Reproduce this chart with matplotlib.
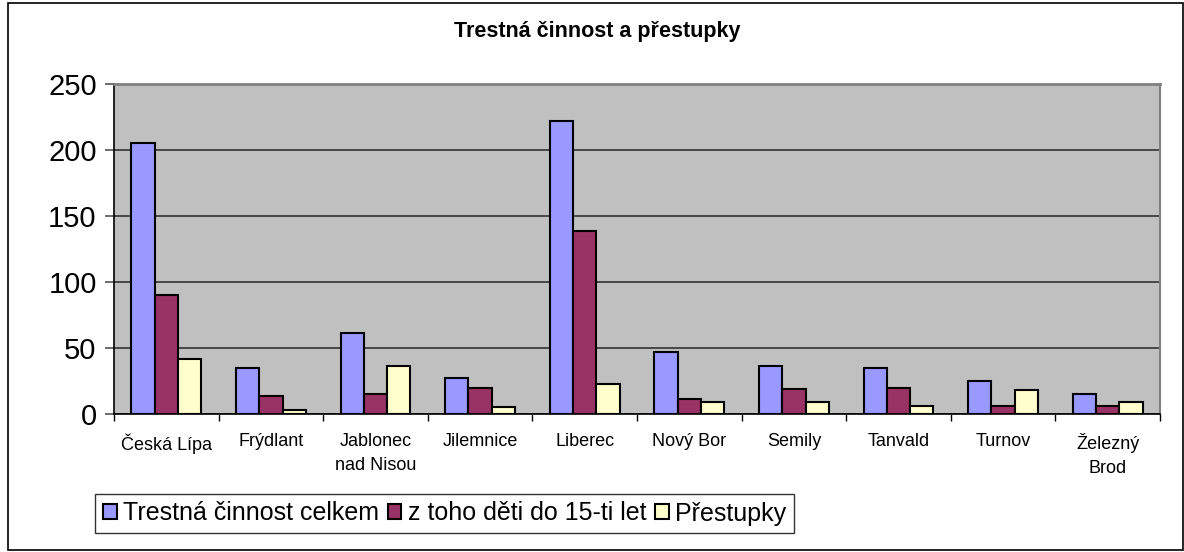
import numpy as np
import matplotlib.pyplot as plt
from matplotlib.patches import Rectangle

plt.rcParams['font.family'] = ['Liberation Sans', 'DejaVu Sans']

okresy = ['Česká Lípa', 'Frýdlant', 'Jablonec\nnad Nisou', 'Jilemnice', 'Liberec',
          'Nový Bor', 'Semily', 'Tanvald', 'Turnov', 'Železný\nBrod']
celkem = [205, 35, 61, 27, 222, 47, 36, 35, 25, 15]
deti = [90, 14, 15, 20, 139, 11, 19, 20, 6, 6]
prestupky = [42, 3, 36, 5, 23, 9, 9, 6, 18, 9]
nazvy = ['Trestná činnost celkem', 'z toho děti do 15-ti let', 'Přestupky']
barvy = ['#9999FF', '#993366', '#FFFFCC']

fig = plt.figure(figsize=(11.84, 5.52), dpi=100)
ax = fig.add_axes([114/1184, 1-414/552, (1160-114)/1184, 330/552])

x = np.arange(len(okresy))
w = 1/4.5
for i, data in enumerate([celkem, deti, prestupky]):
    ax.bar(x + (i-1)*w, data, w, color=barvy[i], edgecolor='black', linewidth=1.5,
           label=nazvy[i], zorder=3)

ax.set_facecolor('#C0C0C0')
ax.set_xlim(-0.5, len(okresy)-0.5)
ax.set_ylim(0, 250)
ax.set_yticks([0, 50, 100, 150, 200, 250])
ax.yaxis.grid(True, color='#333333', linewidth=1.2, zorder=0)
ax.tick_params(axis='y', labelsize=21, length=6.5, color='#555555', width=1.2, pad=6)

ax.set_xticks(x)
ax.set_xticklabels(okresy, fontsize=13, linespacing=1.5)
ax.set_xticks(np.arange(len(okresy)+1)-0.5, minor=True)
ax.tick_params(axis='x', which='major', length=0, pad=14)
ax.tick_params(axis='x', which='minor', length=5, color='black', width=1)

ax.spines['top'].set_color('#808080')
ax.spines['right'].set_color('#808080')
ax.spines['top'].set_linewidth(2)
ax.spines['right'].set_linewidth(1.5)
ax.spines['left'].set_linewidth(1.2)
ax.spines['bottom'].set_linewidth(1.2)

fig.text(597/1184, 1-31/552, 'Trestná činnost a přestupky', ha='center', va='center',
         fontsize=15.5, fontweight='bold')

leg = fig.legend(loc='center', bbox_to_anchor=(444.5/1184, 1-513.5/552), ncol=3,
                 fontsize=18, frameon=True, fancybox=False, edgecolor='black',
                 handlelength=0.55, handleheight=0.55, handletextpad=0.25,
                 columnspacing=0.35, borderpad=0.3, borderaxespad=0)
leg.get_frame().set_linewidth(1)

fig.patches.append(Rectangle((8/1184, 2/552), (1183-8)/1184, (549-2)/552,
                             transform=fig.transFigure, fill=False,
                             edgecolor='black', linewidth=1.2))

fig.savefig('out.png', dpi=100)
